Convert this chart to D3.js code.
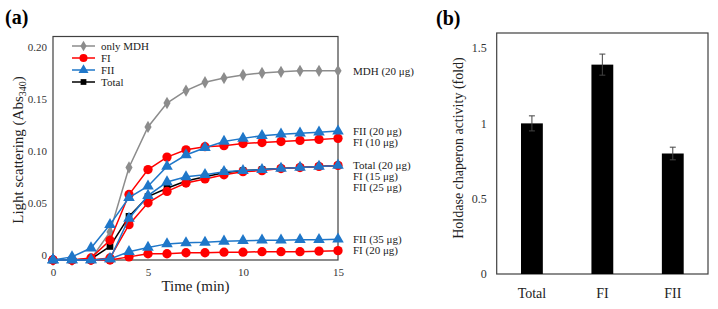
<!DOCTYPE html>
<html><head><meta charset="utf-8">
<script src="https://cdn.jsdelivr.net/npm/d3@7"></script>
<style>body{margin:0;background:#fff}svg{display:block;font-family:"Liberation Serif","Times New Roman",serif}</style>
</head><body>
<svg id="c" width="718" height="309"></svg>
<script>
// ---------- Panel (a) data ----------
const times = d3.range(0, 16);
const mdh20   = [-0.005,-0.005,-0.004,0.022,0.084,0.123,0.146,0.158,0.166,0.170,0.173,0.175,0.176,0.177,0.177,0.177];
const fi10    = [-0.005,-0.005,-0.003,0.014,0.058,0.082,0.094,0.101,0.104,0.105,0.107,0.108,0.109,0.110,0.111,0.112];
const fi15    = [-0.005,-0.005,-0.005,-0.003,0.029,0.050,0.061,0.069,0.073,0.077,0.080,0.081,0.083,0.084,0.085,0.086];
const fi20    = [-0.005,-0.005,-0.005,-0.005,-0.002,0.001,0.001,0.002,0.002,0.0025,0.0025,0.003,0.003,0.003,0.0035,0.004];
const fii20   = [-0.005,-0.002,0.0065,0.029,0.055,0.066,0.085,0.096,0.103,0.109,0.112,0.1145,0.116,0.117,0.118,0.119];
const fii25   = [-0.005,-0.005,-0.005,-0.004,0.035,0.057,0.070,0.075,0.077,0.080,0.081,0.082,0.083,0.084,0.085,0.086];
const fii35   = [-0.005,-0.005,-0.005,-0.004,0.003,0.007,0.0105,0.0115,0.012,0.013,0.0135,0.014,0.014,0.0145,0.0145,0.015];
const total20 = [-0.005,-0.005,-0.004,0.008,0.037,0.056,0.064,0.071,0.075,0.079,0.081,0.082,0.083,0.084,0.085,0.086];
const yTicksA = [0, 0.05, 0.10, 0.15, 0.20];
const xTicksA = [0, 5, 10, 15];
const legendNames = ["only MDH", "FI", "FII", "Total"];

// ---------- Panel (b) data ----------
const barCats = ["Total", "FI", "FII"];
const barVals = [1.0, 1.39, 0.80];
const barErr  = [0.05, 0.07, 0.042];
const yTicksB = [0, 0.5, 1, 1.5];

const kinds = {
  "only MDH": {color:"#8c8c8c", sym:d3.symbolDiamond, size:44},
  "FI":       {color:"#ff0000", sym:d3.symbolCircle,  size:68},
  "FII":      {color:"#1f77c9", sym:d3.symbolTriangle, size:58},
  "Total":    {color:"#000000", sym:d3.symbolSquare,  size:44}
};
const series = [
  {kind:"only MDH", label:"MDH (20 \u03bcg)", v:mdh20},
  {kind:"Total", label:"Total (20 \u03bcg)", v:total20},
  {kind:"FI", label:"FI (10 \u03bcg)", v:fi10},
  {kind:"FI", label:"FI (15 \u03bcg)", v:fi15},
  {kind:"FI", label:"FI (20 \u03bcg)", v:fi20},
  {kind:"FII", label:"FII (20 \u03bcg)", v:fii20},
  {kind:"FII", label:"FII (25 \u03bcg)", v:fii25},
  {kind:"FII", label:"FII (35 \u03bcg)", v:fii35}
];

const svg = d3.select("#c");
const axisColor = "#404040";

// ================= Panel (a) =================
const A = {l:53, r:338, t:36.5, b:260};
const xA = d3.scaleLinear().domain([0,15]).range([A.l, A.r]);
const yA = d3.scaleLinear().domain([-0.005, 0.21]).range([A.b, A.t]);

const gA = svg.append("g");
gA.append("rect").attr("x",A.l).attr("y",A.t).attr("width",A.r-A.l).attr("height",A.b-A.t)
  .attr("fill","none").attr("stroke",axisColor).attr("stroke-width",1.2);

const yAxA = gA.append("g").attr("transform",`translate(${A.l},0)`)
  .call(d3.axisLeft(yA).tickValues(yTicksA).tickSize(0).tickPadding(6)
        .tickFormat(d => d === 0 ? "0" : d3.format(".2f")(d)));
yAxA.select(".domain").remove();
yAxA.selectAll("text").attr("font-size",11).attr("fill","#333").style("font-family","Liberation Serif");

const xAxA = gA.append("g").attr("transform",`translate(0,${A.b})`)
  .call(d3.axisBottom(xA).tickValues(xTicksA).tickSize(0).tickPadding(8));
xAxA.select(".domain").remove();
xAxA.selectAll("text").attr("font-size",11).attr("fill","#333").style("font-family","Liberation Serif");

gA.append("text").attr("x",(A.l+A.r)/2).attr("y",291).attr("text-anchor","middle")
  .attr("font-size",15).attr("fill","#222").text("Time (min)");
const yl = gA.append("text").attr("transform",`translate(23,150) rotate(-90)`)
  .attr("text-anchor","middle").attr("font-size",15).attr("fill","#222");
yl.append("tspan").text("Light scattering (Abs");
yl.append("tspan").attr("font-size",10).attr("dy",3).text("340");
yl.append("tspan").attr("dy",-3).text(")");

const line = d3.line().x((d,i)=>xA(times[i])).y(d=>yA(d));
series.forEach(s => {
  const k = kinds[s.kind];
  const g = gA.append("g");
  g.append("path").datum(s.v).attr("d",line).attr("fill","none")
    .attr("stroke",k.color).attr("stroke-width",1.5);
  g.selectAll("path.m").data(s.v).join("path").attr("class","m")
    .attr("transform",(d,i)=>`translate(${xA(times[i])},${yA(d)})`)
    .attr("d", d3.symbol().type(k.sym).size(k.size)).attr("fill",k.color);
});

// right-side labels, stacked downwards to avoid overlap
const labs = series.map((s,i)=>({label:s.label, y:yA(s.v[s.v.length-1]), i}))
  .sort((a,b)=> a.y - b.y || a.i - b.i);
let prev = -1e9;
labs.forEach(l => { l.y = Math.max(l.y, prev + 10.8); prev = l.y; });
gA.selectAll("text.rl").data(labs).join("text").attr("class","rl")
  .attr("x",353).attr("y",d=>d.y).attr("dy","0.35em").attr("font-size",11).attr("fill","#222")
  .text(d=>d.label);

// legend
const lg = gA.append("g");
legendNames.forEach((n,i) => {
  const k = kinds[n], y = 46 + i*12;
  lg.append("line").attr("x1",72).attr("x2",95).attr("y1",y).attr("y2",y)
    .attr("stroke",k.color).attr("stroke-width",1.5);
  lg.append("path").attr("transform",`translate(83.5,${y})`)
    .attr("d", d3.symbol().type(k.sym).size(k.size*0.75)).attr("fill",k.color);
  lg.append("text").attr("x",101).attr("y",y).attr("dy","0.35em").attr("font-size",11)
    .attr("fill","#222").text(n);
});

svg.append("text").attr("x",5).attr("y",24).attr("font-size",20).attr("font-weight","bold").text("(a)");

// ================= Panel (b) =================
const B = {l:496.7, r:708, t:33, b:274};
const xB = d3.scaleBand().domain(barCats).range([B.l, B.r]).padding(0);
const yB = d3.scaleLinear().domain([0,1.6]).range([B.b, B.t]);
const gB = svg.append("g");
gB.append("rect").attr("x",B.l).attr("y",B.t).attr("width",B.r-B.l).attr("height",B.b-B.t)
  .attr("fill","none").attr("stroke",axisColor).attr("stroke-width",1.2);

const yAxB = gB.append("g").attr("transform",`translate(${B.l},0)`)
  .call(d3.axisLeft(yB).tickValues(yTicksB).tickSize(0).tickPadding(10).tickFormat(d3.format("")));
yAxB.select(".domain").remove();
yAxB.selectAll("text").attr("font-size",12).attr("fill","#333").style("font-family","Liberation Serif");

const xAxB = gB.append("g").attr("transform",`translate(0,${B.b})`)
  .call(d3.axisBottom(xB).tickSize(0).tickPadding(14));
xAxB.select(".domain").remove();
xAxB.selectAll("text").attr("font-size",14).attr("fill","#222").style("font-family","Liberation Serif");

const bw = xB.bandwidth()*0.31;
gB.selectAll("rect.bar").data(barCats).join("rect").attr("class","bar")
  .attr("x",(d)=>xB(d)+xB.bandwidth()/2-bw/2).attr("width",bw)
  .attr("y",(d,i)=>yB(barVals[i])).attr("height",(d,i)=>yB(0)-yB(barVals[i])).attr("fill","#000");
barCats.forEach((c,i) => {
  const cx = xB(c)+xB.bandwidth()/2;
  const y1 = yB(barVals[i]+barErr[i]), y2 = yB(barVals[i]-barErr[i]);
  gB.append("line").attr("x1",cx).attr("x2",cx).attr("y1",y1).attr("y2",y2).attr("stroke","#444").attr("stroke-width",1);
  [y1,y2].forEach(y => gB.append("line").attr("x1",cx-3).attr("x2",cx+3).attr("y1",y).attr("y2",y)
    .attr("stroke","#444").attr("stroke-width",1));
});
gB.append("text").attr("transform",`translate(463,148) rotate(-90)`).attr("text-anchor","middle")
  .attr("font-size",14).attr("fill","#222").text("Holdase chaperon activity (fold)");
svg.append("text").attr("x",436).attr("y",25).attr("font-size",20).attr("font-weight","bold").text("(b)");
</script>
</body></html>
